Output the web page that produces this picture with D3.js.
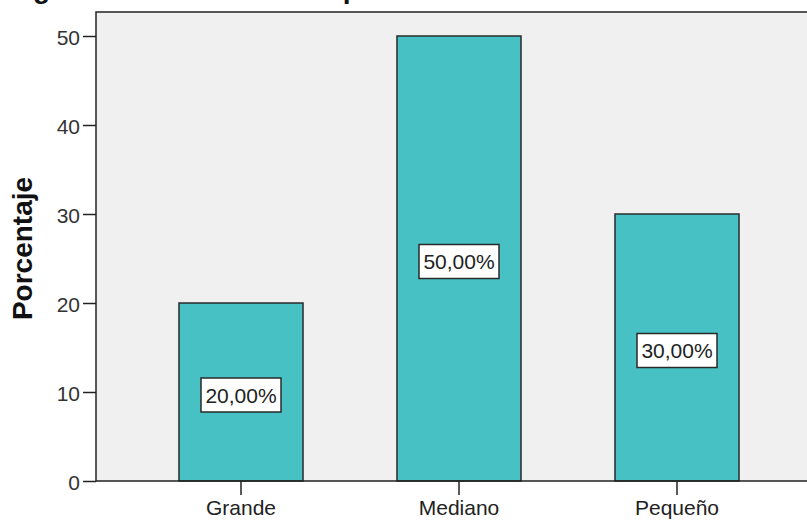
<!DOCTYPE html>
<html>
<head>
<meta charset="utf-8">
<script src="https://cdn.jsdelivr.net/npm/d3@7"></script>
<style>
  html, body { margin: 0; padding: 0; background: #ffffff; }
  svg { display: block; }
  text { font-family: "Liberation Sans", Arial, sans-serif; }
</style>
</head>
<body>
<svg id="chart" width="807" height="520"></svg>
<script>
const categories = ["Grande", "Mediano", "Pequeño"];
const values = [20, 50, 30];
const valueLabels = ["20,00%", "50,00%", "30,00%"];
const yTicks = [0, 10, 20, 30, 40, 50];
const yTitle = "Porcentaje";
const chartTitle = "gún el tamaño de la empresa en el Ecuador";

const svg = d3.select("#chart");
const W = 807, H = 520;
const plot = { left: 96, right: 812, top: 12, bottom: 481 };

const y = d3.scaleLinear().domain([0, 50]).range([481, 36]);
const x = d3.scaleBand().domain(categories).range([132, 786])
  .paddingInner(0.431).paddingOuter(0.2155);

// clipped title at top (cut off in the reference too)
svg.append("text")
  .attr("x", 33).attr("y", -2)
  .attr("font-size", 28).attr("font-weight", "bold").attr("fill", "#111")
  .text(chartTitle);

// plot background
svg.append("rect")
  .attr("x", plot.left).attr("y", plot.top)
  .attr("width", plot.right - plot.left).attr("height", plot.bottom - plot.top)
  .attr("fill", "#f0f0f0");

// bars
svg.append("g").selectAll("rect").data(categories).join("rect")
  .attr("x", d => x(d))
  .attr("y", (d, i) => y(values[i]))
  .attr("width", x.bandwidth())
  .attr("height", (d, i) => y(0) - y(values[i]))
  .attr("fill", "#47c1c4")
  .attr("stroke", "#2a2a2a").attr("stroke-width", 1.5);

// value labels
const lab = svg.append("g").selectAll("g").data(categories).join("g")
  .attr("transform", (d, i) => `translate(${x(d) + x.bandwidth() / 2},${y(values[i] / 2) + 3})`);
lab.append("rect")
  .attr("x", -40).attr("y", -17).attr("width", 80).attr("height", 34)
  .attr("fill", "#ffffff").attr("stroke", "#2a2a2a").attr("stroke-width", 1.5);
lab.append("text")
  .attr("text-anchor", "middle").attr("dy", "0.36em")
  .attr("font-size", 21).attr("fill", "#222")
  .text((d, i) => valueLabels[i]);

// y axis
const yAxis = d3.axisLeft(y).tickValues(yTicks).tickSize(13).tickPadding(3);
const gy = svg.append("g").attr("transform", `translate(${plot.left},0)`).call(yAxis);
gy.select(".domain").remove();
gy.selectAll(".tick line").attr("stroke", "#222").attr("stroke-width", 1.5);
gy.selectAll(".tick text").attr("font-size", 21).attr("fill", "#333").attr("dy", "0.42em")
  .attr("font-family", "'Liberation Sans', Arial, sans-serif");

// x axis
const xAxis = d3.axisBottom(x).tickSize(14).tickPadding(5);
const gx = svg.append("g").attr("transform", `translate(0,${plot.bottom})`).call(xAxis);
gx.select(".domain").remove();
gx.selectAll(".tick line").attr("stroke", "#222").attr("stroke-width", 1.5);
gx.selectAll(".tick text").attr("font-size", 21).attr("fill", "#222")
  .attr("font-family", "'Liberation Sans', Arial, sans-serif");

// plot frame lines (left, top, bottom)
svg.append("path")
  .attr("d", `M${W + 5},${plot.top}H${plot.left}V${plot.bottom}H${W + 5}`)
  .attr("fill", "none").attr("stroke", "#222").attr("stroke-width", 1.5);

// y title
svg.append("text")
  .attr("transform", `translate(32,${(plot.top + plot.bottom) / 2 + 2}) rotate(-90)`)
  .attr("text-anchor", "middle")
  .attr("font-size", 28).attr("font-weight", "bold").attr("fill", "#111")
  .text(yTitle);
</script>
</body>
</html>
